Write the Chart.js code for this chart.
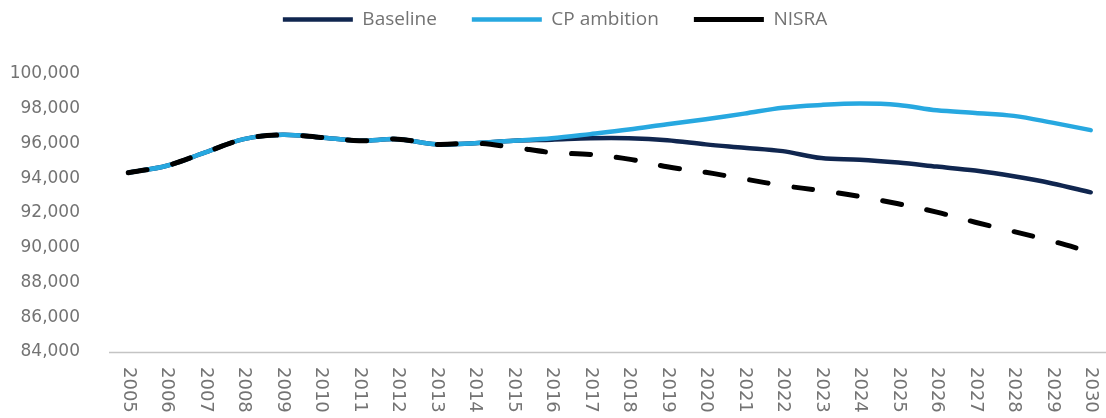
<!DOCTYPE html>
<html>
<head>
<meta charset="utf-8">
<script src="https://cdn.jsdelivr.net/npm/chart.js@4.4.1/dist/chart.umd.min.js"></script>
<style>
  html, body { margin: 0; padding: 0; background: #fff; overflow: hidden; }
  #wrap { width: 1110px; height: 418px; }
</style>
</head>
<body>
<div id="wrap"><canvas id="popChart"></canvas></div>
<script>
// Population projections 2005-2030
const years = ['2005', '2006', '2007', '2008', '2009', '2010', '2011', '2012', '2013',
  '2014', '2015', '2016', '2017', '2018', '2019', '2020', '2021', '2022', '2023',
  '2024', '2025', '2026', '2027', '2028', '2029', '2030'];

const baseline = [94320, 94720, 95490, 96250, 96500, 96350, 96160, 96250, 95950,
  96020, 96160, 96220, 96300, 96300, 96190, 95950, 95760, 95560, 95160,
  95070, 94900, 94670, 94440, 94110, 93700, 93190];

const cpAmbition = [94320, 94720, 95490, 96250, 96500, 96350, 96160, 96250, 95950,
  96020, 96160, 96300, 96540, 96800, 97110, 97400, 97720, 98060, 98220,
  98300, 98220, 97910, 97760, 97590, 97200, 96770];

const nisra = [94320, 94720, 95490, 96250, 96500, 96350, 96160, 96250, 95950,
  96020, 95780, 95480, 95370, 95100, 94660, 94340, 93960, 93580, 93290,
  92950, 92530, 92050, 91470, 90930, 90380, 89750];

const yTicks = [84000, 86000, 88000, 90000, 92000, 94000, 96000, 98000, 100000];

const textColor = '#737373';

// taller legend block so the plot starts lower
const legendSpace = {
  id: 'legendSpace',
  afterInit(chart) {
    const fit = chart.legend.fit;
    chart.legend.fit = function () {
      fit.call(this);
      this.height += 35;
    };
  }
};

// axis line under the plot and year labels turned to read top to bottom
const xAxisDecor = {
  id: 'xAxisDecor',
  afterDraw(chart) {
    const ctx = chart.ctx;
    const area = chart.chartArea;
    const x = chart.scales.x;
    const lineY = Math.round(area.bottom) + 0.5;

    ctx.save();
    ctx.strokeStyle = '#c4c4c4';
    ctx.lineWidth = 1.5;
    ctx.beginPath();
    ctx.moveTo(area.left, lineY);
    ctx.lineTo(chart.width, lineY);
    ctx.stroke();

    ctx.font = '18px "DejaVu Sans"';
    ctx.fillStyle = textColor;
    ctx.textAlign = 'left';
    ctx.textBaseline = 'middle';
    years.forEach((yr, i) => {
      ctx.save();
      ctx.translate(x.getPixelForTick(i), area.bottom + 15);
      ctx.rotate(Math.PI / 2);
      ctx.fillText(yr, 0, 0);
      ctx.restore();
    });
    ctx.restore();
  }
};

const popChart = new Chart(document.getElementById('popChart'), {
  type: 'line',
  data: {
    labels: years,
    datasets: [{
      label: 'Baseline',
      data: baseline,
      borderColor: '#10264f',
      borderWidth: 4.5,
      order: 2
    }, {
      label: 'CP ambition',
      data: cpAmbition,
      borderColor: '#27a8e0',
      borderWidth: 4.5,
      order: 1
    }, {
      label: 'NISRA',
      data: nisra,
      borderColor: '#000000',
      borderWidth: 5,
      borderDash: [19, 26],
      order: 0
    }]
  },
  options: {
    responsive: true,
    maintainAspectRatio: false,
    animation: false,
    layout: {
      padding: { top: -25, left: 0, right: 0, bottom: 66 }
    },
    elements: {
      point: { radius: 0, hoverRadius: 0 },
      line: { tension: 0.35, borderCapStyle: 'round', borderJoinStyle: 'round', fill: false }
    },
    plugins: {
      tooltip: { enabled: false },
      legend: {
        position: 'top',
        labels: {
          sort: (a, b) => a.datasetIndex - b.datasetIndex,
          usePointStyle: true,
          pointStyle: 'line',
          pointStyleWidth: 70,
          padding: 35,
          color: textColor,
          font: { family: 'Open Sans', size: 19 }
        }
      }
    },
    scales: {
      x: {
        offset: true,
        grid: { display: true, drawOnChartArea: false, drawTicks: false },
        border: { display: false },
        ticks: { display: false }
      },
      y: {
        min: 84000,
        max: 100000,
        grid: { display: false },
        border: { display: false },
        afterBuildTicks(scale) {
          scale.ticks = yTicks.map(v => ({ value: v }));
        },
        afterFit(scale) {
          scale.width = 109;
        },
        ticks: {
          padding: 21,
          color: textColor,
          font: { family: 'DejaVu Sans', size: 17 },
          callback: v => v.toLocaleString('en-US')
        }
      }
    }
  },
  plugins: [legendSpace, xAxisDecor]
});
</script>
</body>
</html>
